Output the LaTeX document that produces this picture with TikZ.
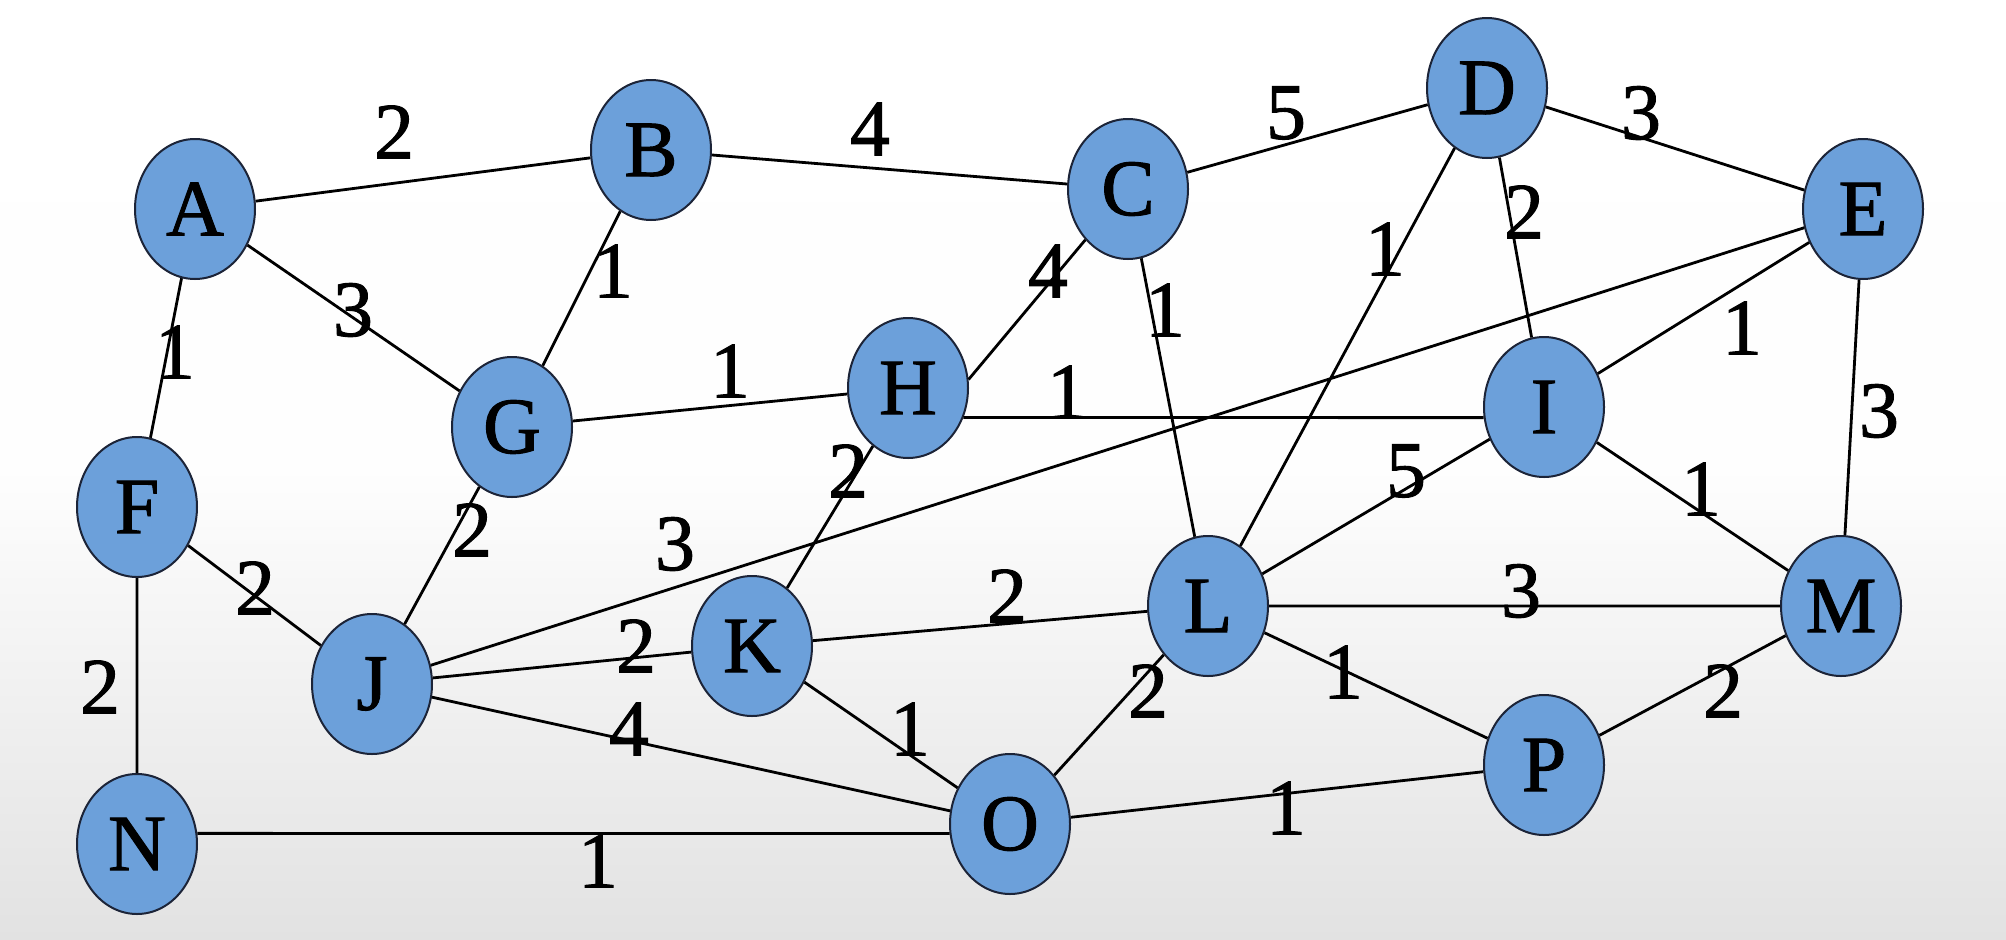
\documentclass[tikz,border=0pt]{standalone}
\usepackage{fontspec}
\setmainfont{Liberation Serif}
\newfontfamily\graphfont[FakeBold=1.2]{Liberation Serif}
\usetikzlibrary{shapes.geometric}
\definecolor{nodefill}{RGB}{108,160,218}
\definecolor{nodeline}{RGB}{28,36,56}
\definecolor{bgbottom}{RGB}{226,226,226}
\tikzset{
  vertex/.style={ellipse, draw=nodeline, line width=2pt, fill=nodefill,
    minimum width=120pt, minimum height=140pt, inner sep=0pt,
    font=\graphfont\fontsize{80}{96}\selectfont},
  weight/.style={inner sep=0pt, font=\graphfont\fontsize{80}{96}\selectfont},
  edge/.style={draw=black, line width=2.8pt}
}
\begin{document}
\begin{tikzpicture}[x=1pt,y=-1pt]
  % background
  \useasboundingbox (0,0) rectangle (2006,940);
  \shade[top color=white, bottom color=bgbottom, middle color=white!96!bgbottom]
    (0,0) rectangle (2006,940);

  % vertices
  \node[vertex] (A) at (195,209) {A};
  \node[vertex] (B) at (651,150) {B};
  \node[vertex] (C) at (1128,189) {C};
  \node[vertex] (D) at (1487,88) {D};
  \node[vertex] (E) at (1863,209) {E};
  \node[vertex] (F) at (137,507) {F};
  \node[vertex] (G) at (512,427) {G};
  \node[vertex] (H) at (908,388) {H};
  \node[vertex] (I) at (1544,407) {I};
  \node[vertex] (J) at (372,684) {J};
  \node[vertex] (K) at (752,646) {K};
  \node[vertex] (L) at (1208,606) {L};
  \node[vertex] (M) at (1841,606) {M};
  \node[vertex] (N) at (137,844) {N};
  \node[vertex] (O) at (1010,824) {O};
  \node[vertex] (P) at (1544,765) {P};

  % edges, clipped at the vertex borders
  \path[edge]
    (A) -- (B)  (B) -- (C)  (C) -- (D)  (D) -- (E)
    (A) -- (G)  (B) -- (G)  (C.230) -- (H.8)  (C) -- (L)
    (D) -- (L)  (D) -- (I)  (E) -- (I)  (E) -- (M)
    (A) -- (F)  (G) -- (H)  (H.-28) -- (I.190)
    (H) -- (K)  (I) -- (L)  (I) -- (M)  (F) -- (J)
    (G) -- (J)  (E) -- (J)  (L) -- (M)  (F) -- (N)
    (J) -- (K)  (K) -- (L)  (J) -- (O)  (K) -- (O)
    (L) -- (O)  (L) -- (P)  (M) -- (P)  (N.10) -- (O.189)
    (O) -- (P);

  % edge weights
  \node[weight] (wAB) at (394,132) {2};
  \node[weight] (wBC) at (870,129) {4};
  \node[weight] (wCD) at (1286,113) {5};
  \node[weight] (wDE) at (1641,113) {3};
  \node[weight] (wAG) at (353,310) {3};
  \node[weight] (wBG) at (613,271) {1};
  \node[weight] (wCH) at (1048,271) {4};
  \node[weight] (wCL) at (1165,310) {1};
  \node[weight] (wDL) at (1385,249) {1};
  \node[weight] (wDI) at (1524,212) {2};
  \node[weight] (wEI) at (1742,328) {1};
  \node[weight] (wEM) at (1879,411) {3};
  \node[weight] (wAF) at (175,352) {1};
  \node[weight] (wGH) at (730,371) {1};
  \node[weight] (wHI) at (1067,392) {1};
  \node[weight] (wHK) at (848,471) {2};
  \node[weight] (wIL) at (1406,471) {5};
  \node[weight] (wIM) at (1701,489) {1};
  \node[weight] (wFJ) at (255,588) {2};
  \node[weight] (wGJ) at (472,530) {2};
  \node[weight] (wEJ) at (675,544) {3};
  \node[weight] (wLM) at (1521,591) {3};
  \node[weight] (wFN) at (100,687) {2};
  \node[weight] (wJK) at (636,646) {2};
  \node[weight] (wKL) at (1007,596) {2};
  \node[weight] (wJO) at (629,729) {4};
  \node[weight] (wKO) at (910,729) {1};
  \node[weight] (wLO) at (1148,691) {2};
  \node[weight] (wLP) at (1343,672) {1};
  \node[weight] (wMP) at (1723,691) {2};
  \node[weight] (wNO) at (598,861) {1};
  \node[weight] (wOP) at (1286,808) {1};
\end{tikzpicture}
\end{document}
